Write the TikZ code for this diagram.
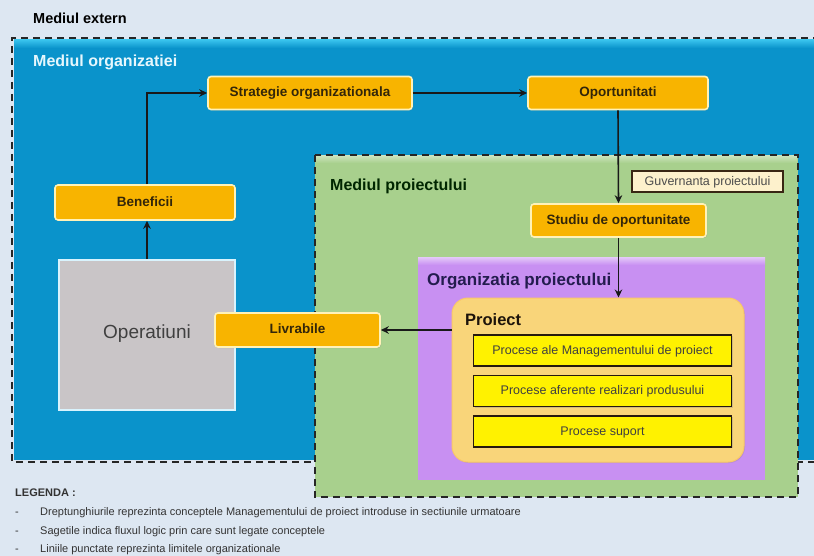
\documentclass[tikz,border=0pt]{standalone}
\usepackage{fontspec}
\setmainfont{Liberation Sans}
\usetikzlibrary{arrows.meta,shadows}
\definecolor{bgc}{HTML}{DDE7F2}
\definecolor{bluec}{HTML}{0A93CB}
\definecolor{bluetop}{HTML}{38C2EC}
\definecolor{greenc}{HTML}{A8D08D}
\definecolor{purplec}{HTML}{C890F2}
\definecolor{projc}{HTML}{F9D57A}
\definecolor{orangec}{HTML}{F8B400}
\definecolor{orangeedge}{HTML}{FFF2B8}
\definecolor{txtdark}{HTML}{33260A}
\definecolor{grayc}{HTML}{C9C5C7}
\definecolor{guvc}{HTML}{FDF1CC}
\definecolor{navy}{HTML}{231C4E}
\tikzset{
  obox/.style={draw=orangeedge, line width=1.6pt, fill=orangec, rounded corners=3pt,
    inner sep=0pt, font=\fontsize{13.5}{15}\selectfont\bfseries, text=txtdark,
    text height=0.72em, text depth=0pt,
    drop shadow={shadow xshift=1pt, shadow yshift=-1pt, opacity=0.35}},
  ybox/.style={draw=black!80!brown, line width=1.3pt, fill=yellow, inner sep=0pt,
    minimum width=258pt, minimum height=31pt, font=\fontsize{12.5}{14}\selectfont, text=black!75,
    text height=0.72em, text depth=0pt,
    drop shadow={shadow xshift=1pt, shadow yshift=-1pt, opacity=0.3}},
  arr/.style={line width=1.6pt, draw=black!90, -{Stealth[length=8pt,width=7.5pt]}},
  dashb/.style={line width=2pt, draw=black!85, dash pattern=on 7pt off 5pt},
  title/.style={font=\fontsize{15.5}{17}\selectfont\bfseries, anchor=west, inner sep=0pt},
  legtxt/.style={font=\fontsize{11}{13}\selectfont, anchor=west, inner sep=0pt, text=black!80,
    text height=8pt, text depth=2.5pt}
}
\begin{document}
\begin{tikzpicture}[x=1pt,y=-1pt]
\useasboundingbox (0,0) rectangle (814,556);
\clip (0,0) rectangle (814,556);
\fill[bgc] (0,0) rectangle (814,556);
% organisation environment
\fill[bluec] (14,40) rectangle (816,460);
\shade[top color=bluetop, bottom color=bluec] (14,40) rectangle (816,48);
\draw[dashb] (820,38) -- (12,38) -- (12,462) -- (820,462);
\node[title, font=\fontsize{16}{18}\selectfont\bfseries, text=white!90!cyan] (morg) at (33,62) {Mediul organizatiei};
\node[title, font=\fontsize{14.5}{16}\selectfont\bfseries] (mext) at (33,18) {Mediul extern};
% project environment
\fill[greenc] (315,155) rectangle (798,497);
\shade[top color=greenc!60!white, bottom color=greenc] (316,156) rectangle (797,163);
\draw[dashb] (315,155) rectangle (798,497);
\node[title, font=\fontsize{16}{18}\selectfont\bfseries, text=black!85!green] (mproj) at (330,186) {Mediul proiectului};
% project organisation
\fill[purplec] (418,258) rectangle (765,480);
\shade[top color=purplec!55!white, bottom color=purplec] (418,258) rectangle (765,265);
\node[title, font=\fontsize{17}{19}\selectfont\bfseries, text=navy] (morgp) at (427,281) {Organizatia proiectului};
% project
\node[draw=projc!85!orange, line width=1pt, fill=projc, rounded corners=16pt, minimum width=292pt, minimum height=164pt, inner sep=0pt,
  drop shadow={shadow xshift=1pt, shadow yshift=-1pt, opacity=0.25}] (proiect) at (598,380) {};
\node[title, font=\fontsize{16.5}{18}\selectfont\bfseries, text=black!85!brown] (ptitle) at (465,320) {Proiect};
\node[ybox] (p1) at (602.5,350.5) {Procese ale Managementului de proiect};
\node[ybox] (p2) at (602.5,391) {Procese aferente realizari produsului};
\node[ybox] (p3) at (602.5,431.5) {Procese suport};
\node[draw=black!70!brown, line width=1.3pt, fill=guvc, minimum width=151pt, minimum height=21pt, inner sep=0pt,
  font=\fontsize{12.5}{14}\selectfont, text=black!70, text height=0.72em, text depth=0pt] (guv) at (707.5,181.5) {Guvernanta proiectului};
% boxes
\node[obox, minimum width=204pt, minimum height=33pt] (strat) at (310,93) {Strategie organizationala};
\node[obox, minimum width=180pt, minimum height=33pt] (oport) at (618,93) {Oportunitati};
\node[obox, minimum width=175pt, minimum height=33pt] (studiu) at (618.5,220.5) {Studiu de oportunitate};
\node[obox, minimum width=180pt, minimum height=35pt] (benef) at (145,202.5) {Beneficii};
\node[draw=white!85!cyan, line width=1.5pt, fill=grayc, minimum width=176pt, minimum height=150pt, inner sep=0pt,
  font=\fontsize{19}{21}\selectfont, text=black!75, text height=0.72em, text depth=0pt] (oper) at (147,335) {Operatiuni};
\node[obox, minimum width=165pt, minimum height=34pt] (livr) at (297.5,330) {Livrabile};
% arrows
\draw[arr] (oper.north) -- (oper.north |- benef.south);
\draw[arr] (benef.north -| oper.north) |- (strat.west);
\draw[arr] (strat.east) -- (oport.west);
\draw[arr] (oport.south) -- (studiu.north);
\draw[arr] (studiu.south) -- (studiu.south |- proiect.north);
\draw[arr] (proiect.west |- livr.east) -- (livr.east);
% legend
\node[legtxt, font=\fontsize{11}{13}\selectfont\bfseries] (leg) at (15,494) {LEGENDA :};
\node[legtxt] (d1) at (15,513) {-};
\node[legtxt] (l1) at (40,513) {Dreptunghiurile reprezinta conceptele Managementului de proiect introduse in sectiunile urmatoare};
\node[legtxt] (d2) at (15,532) {-};
\node[legtxt] (l2) at (40,532) {Sagetile indica fluxul logic prin care sunt legate conceptele};
\node[legtxt] (d3) at (15,550) {-};
\node[legtxt] (l3) at (40,550) {Liniile punctate reprezinta limitele organizationale};
\end{tikzpicture}
\end{document}
